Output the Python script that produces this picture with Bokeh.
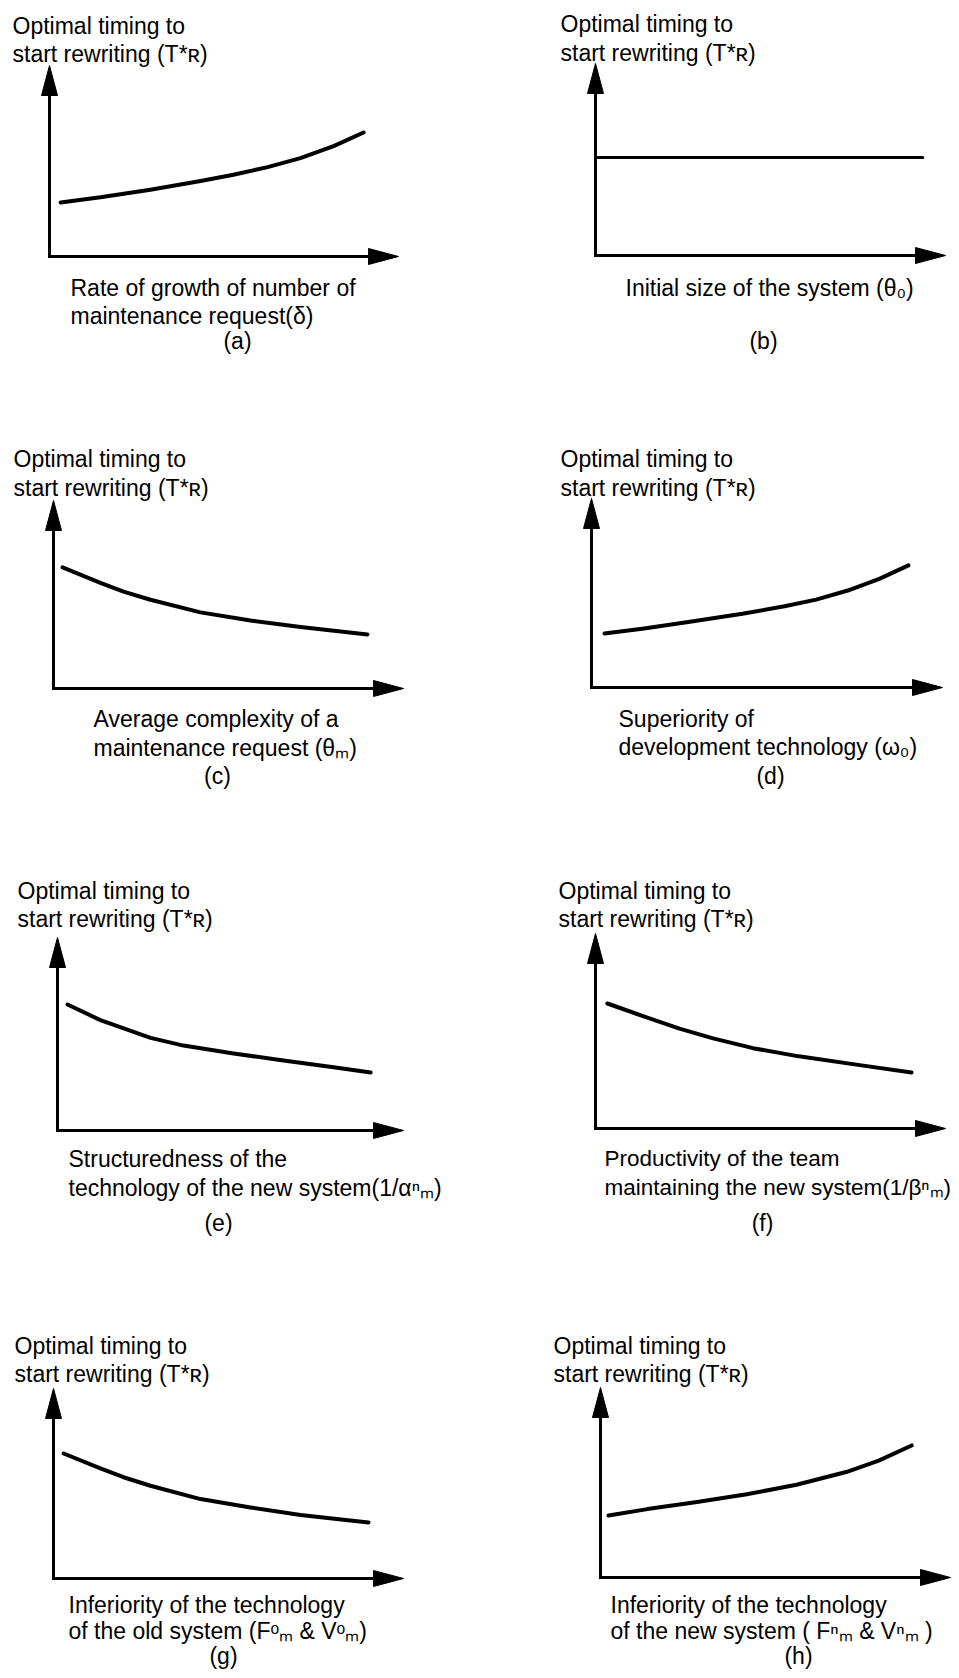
from bokeh.plotting import figure
from bokeh.models import Range1d, Label
from bokeh.embed import file_html
from bokeh.resources import INLINE

# ---------------- data (qualitative curves, axis units 0..10) ----------------
a_x = [0.32, 1.46, 2.89, 4.33, 5.27, 6.25, 7.19, 8.14, 9.0]
a_y = [2.83, 3.10, 3.50, 3.95, 4.28, 4.68, 5.15, 5.78, 6.49]
b_x = [0.0, 9.35]
b_y = [5.1, 5.1]
c_x = [0.26, 1.34, 2.0, 2.77, 4.2, 5.63, 7.06, 8.97]
c_y = [6.44, 5.62, 5.15, 4.72, 4.05, 3.62, 3.27, 2.87]
d_x = [0.37, 1.5, 2.9, 4.3, 5.5, 6.4, 7.3, 8.2, 9.03]
d_y = [2.86, 3.12, 3.5, 3.9, 4.3, 4.65, 5.13, 5.75, 6.46]
e_x = [0.29, 1.24, 2.69, 3.64, 5.09, 6.53, 7.98, 9.05]
e_y = [6.53, 5.72, 4.80, 4.40, 3.99, 3.63, 3.28, 3.01]
f_x = [0.34, 1.42, 2.4, 3.36, 4.5, 5.81, 7.55, 9.03]
f_y = [6.41, 5.72, 5.12, 4.62, 4.12, 3.70, 3.25, 2.87]
g_x = [0.29, 1.34, 2.0, 2.77, 4.2, 5.63, 7.06, 9.0]
g_y = [6.58, 5.80, 5.33, 4.88, 4.18, 3.74, 3.34, 2.95]
h_x = [0.23, 1.34, 2.76, 4.18, 5.6, 7.02, 7.95, 8.89]
h_y = [3.26, 3.60, 3.97, 4.38, 4.88, 5.55, 6.15, 6.95]

y_label = ["Optimal timing to", "start rewriting (T*\u0280)"]
x_labels = {
    "a": ["Rate of growth of number of", "maintenance request(\u03b4)"],
    "b": ["Initial size of the system (\u03b8\u2080)"],
    "c": ["Average complexity of a", "maintenance request (\u03b8\u2098)"],
    "d": ["Superiority of", "development technology (\u03c9\u2080)"],
    "e": ["Structuredness of the", "technology of the new system(1/\u03b1\u207f\u2098)"],
    "f": ["Productivity of the team", "maintaining the new system(1/\u03b2\u207f\u2098)"],
    "g": ["Inferiority of the technology", "of the old system (F\u1d52\u2098 & V\u1d52\u2098)"],
    "h": ["Inferiority of the technology", "of the new system ( F\u207f\u2098 & V\u207f\u2098 )"],
}
letters = ["a", "b", "c", "d", "e", "f", "g", "h"]
curves = {"a": (a_x, a_y), "b": (b_x, b_y), "c": (c_x, c_y), "d": (d_x, d_y),
          "e": (e_x, e_y), "f": (f_x, f_y), "g": (g_x, g_y), "h": (h_x, h_y)}

# ---------------- layout (canvas pixel geometry) ----------------
W, H = 955, 1674
FONT = "Liberation Sans"
FS = 23
HEAD_L, HEAD_W = 30, 16

# origin X0, Y0, x-tip, y-tip, ylabel x, ylabel baselines, xlabel x, xlabel baselines, letter x, letter baseline, xlabel size
geom = {
    "a": (49, 256, 398, 65, 12, (25, 53), 70, (287, 315), 237, 340, FS),
    "b": (595, 255, 945, 63, 560, (23, 52), 625, (287,), 763, 340, FS),
    "c": (53, 688, 403, 500, 13, (458, 487), 93, (718, 747), 217, 775, FS),
    "d": (591, 687, 942, 498, 560, (458, 487), 618, (718, 746), 770, 775, FS),
    "e": (57, 1130, 403, 937, 17, (890, 918), 68, (1158, 1187), 218, 1222, FS),
    "f": (595, 1128, 945, 933, 558, (890, 918), 604, (1158, 1187), 762, 1222, 22.5),
    "g": (53, 1578, 403, 1388, 14, (1345, 1373), 68, (1604, 1630), 223, 1655, FS),
    "h": (600, 1577, 950, 1387, 553, (1345, 1373), 610, (1604, 1630), 798, 1655, FS),
}

p = figure(width=W, height=H, title=None,
           x_range=Range1d(0, W), y_range=Range1d(0, H),
           output_backend="svg", toolbar_location=None,
           x_axis_location=None, y_axis_location=None, min_border=0)
p.xgrid.grid_line_color = None
p.ygrid.grid_line_color = None
p.outline_line_color = None
p.background_fill_color = "white"
p.border_fill_color = "white"

for key in letters:
    X0, Y0, Xt, Yt, ylx, ylb, xlx, xlb, lx, lb, xfs = geom[key]
    sx = (Xt - X0) / 10.0
    sy = (Y0 - Yt) / 10.0
    p.extra_x_ranges[key] = Range1d(-X0 / sx, (W - X0) / sx)
    p.extra_y_ranges[key] = Range1d((Y0 - H) / sy, Y0 / sy)
    rn = dict(x_range_name=key, y_range_name=key)

    # axes with arrow heads
    hx, hy = HEAD_L / sx, HEAD_W / 2 / sy
    vx, vy = HEAD_W / 2 / sx, HEAD_L / sy
    p.line([0, 10 - hx * 0.5], [0, 0], line_color="black", line_width=3, line_cap="square", **rn)
    p.line([0, 0], [0, 10 - vy * 0.5], line_color="black", line_width=3, line_cap="square", **rn)
    p.patch([10, 10 - hx, 10 - hx], [0, hy, -hy], fill_color="black", line_color="black", line_width=1, **rn)
    p.patch([0, vx, -vx], [10, 10 - vy, 10 - vy], fill_color="black", line_color="black", line_width=1, **rn)

    # curve
    cx, cy = curves[key]
    lw = 3 if key == "b" else 4
    p.line(cx, cy, line_color="black", line_width=lw, line_cap="round", line_join="round", **rn)

    def to_data(X, Y):
        return (X - X0) / sx, (Y0 - Y) / sy

    for txt, b in zip(y_label, ylb):
        x, y = to_data(ylx, b)
        p.add_layout(Label(x=x, y=y, text=txt, text_font=FONT, text_font_size=f"{FS}px",
                           text_color="black", text_baseline="alphabetic", text_align="left", **rn))
    for txt, b in zip(x_labels[key], xlb):
        x, y = to_data(xlx, b)
        p.add_layout(Label(x=x, y=y, text=txt, text_font=FONT, text_font_size=f"{xfs}px",
                           text_color="black", text_baseline="alphabetic", text_align="left", **rn))
    x, y = to_data(lx, lb)
    p.add_layout(Label(x=x, y=y, text=f"({key})", text_font=FONT, text_font_size=f"{FS}px",
                       text_color="black", text_baseline="alphabetic", text_align="center", **rn))

open("out.html", "w").write(file_html(p, INLINE))
